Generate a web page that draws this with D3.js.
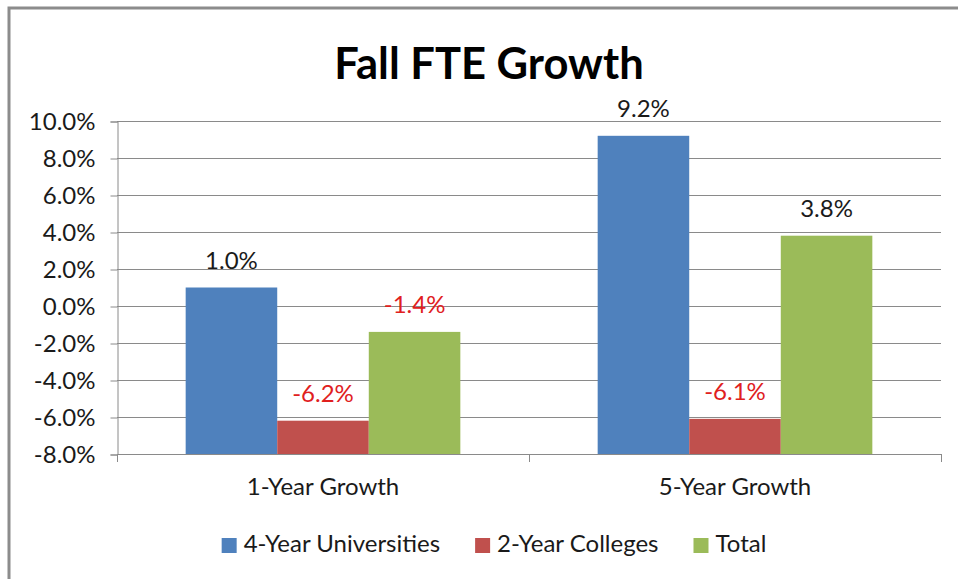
<!DOCTYPE html>
<html>
<head>
<meta charset="utf-8">
<script src="https://cdn.jsdelivr.net/npm/d3@7"></script>
<style>
  body { margin: 0; background: #fff; }
  svg { display: block; font-family: Lato, "Liberation Sans", sans-serif; }
</style>
</head>
<body>
<div id="chart"></div>
<script>
// chart data
var categories = ["1-Year Growth", "5-Year Growth"];
var seriesNames = ["4-Year Universities", "2-Year Colleges", "Total"];
var universities = [0.010, 0.092];
var colleges = [-0.062, -0.061];
var totals = [-0.014, 0.038];
var yTicks = [-0.08, -0.06, -0.04, -0.02, 0, 0.02, 0.04, 0.06, 0.08, 0.10];

var colors = ["#4f81bd", "#c0504d", "#9bbb59"];
var seriesValues = [universities, colleges, totals];

var width = 958, height = 579;
var plot = {left: 117, right: 941, top: 121, bottom: 454};
var fontSize = 24;

// plain hyphen for negatives, like the original
var loc = d3.formatLocale({decimal: ".", thousands: ",", grouping: [3], currency: ["$", ""], minus: "-"});
var pct = loc.format('.1%');

var svg = d3.select('#chart')
  .append('svg')
  .attr('width', width)
  .attr('height', height);

// outer chart border (cropped at right/bottom like the original)
svg.append('rect')
  .attr('x', 9)
  .attr('y', 8)
  .attr('width', 980)
  .attr('height', 600)
  .attr('fill', 'none')
  .attr('stroke', '#8c8c8c')
  .attr('stroke-width', 3);

svg.append('text')
  .attr('x', 489)
  .attr('y', 79)
  .attr('text-anchor', 'middle')
  .attr('font-size', 43.5)
  .attr('font-weight', 'bold')
  .attr('fill', '#000')
  .text('Fall FTE Growth');

var y = d3.scaleLinear()
  .domain([yTicks[0], yTicks[yTicks.length - 1]])
  .range([plot.bottom, plot.top]);

var x0 = d3.scaleBand()
  .domain(categories)
  .range([plot.left, plot.right]);

var x1 = d3.scaleBand()
  .domain(seriesNames)
  .range([0, x0.bandwidth()])
  .paddingInner(0)
  .paddingOuter(0.75);

// gridlines
svg.append('g')
  .selectAll('line')
  .data(yTicks)
  .enter()
  .append('line')
  .attr('x1', plot.left)
  .attr('x2', plot.right)
  .attr('y1', function(d){ return Math.round(y(d)) + 0.5; })
  .attr('y2', function(d){ return Math.round(y(d)) + 0.5; })
  .attr('stroke', '#8a8a8a')
  .attr('stroke-width', 1);

// bars (axis crosses at the minimum, so bars rise from the bottom)
var rows = [];
categories.forEach(function(c, i){
  seriesNames.forEach(function(s, j){
    rows.push({cat: c, series: s, value: seriesValues[j][i], color: colors[j]});
  });
});

svg.append('g')
  .selectAll('rect')
  .data(rows)
  .enter()
  .append('rect')
  .attr('x', function(d){ return x0(d.cat) + x1(d.series); })
  .attr('width', x1.bandwidth())
  .attr('y', function(d){ return y(d.value); })
  .attr('height', function(d){ return y(yTicks[0]) - y(d.value); })
  .attr('fill', function(d){ return d.color; });

// data labels
svg.append('g')
  .selectAll('text')
  .data(rows)
  .enter()
  .append('text')
  .attr('x', function(d){ return x0(d.cat) + x1(d.series) + x1.bandwidth() / 2; })
  .attr('y', function(d){ return y(d.value) - 19; })
  .attr('text-anchor', 'middle')
  .attr('font-size', fontSize)
  .attr('fill', function(d){ return d.value < 0 ? '#e0201e' : '#1a1a1a'; })
  .text(function(d){ return pct(d.value); });

// y axis
var yAxis = svg.append('g')
  .attr('transform', 'translate(' + (plot.left + 0.5) + ',0.5)')
  .call(d3.axisLeft(y).tickValues(yTicks).tickFormat(pct).tickSize(7).tickPadding(15));
yAxis.select('.domain').attr('stroke', '#8a8a8a');
yAxis.selectAll('.tick line').attr('stroke', '#8a8a8a');
yAxis.selectAll('text').attr('font-size', fontSize).attr('fill', '#1a1a1a').attr('font-family', 'Lato, sans-serif');

// x axis line and boundary ticks
var xb = svg.append('g');
xb.append('line')
  .attr('x1', plot.left).attr('x2', plot.right)
  .attr('y1', plot.bottom + 0.5).attr('y2', plot.bottom + 0.5)
  .attr('stroke', '#8a8a8a');
var bounds = categories.map(function(c){ return x0(c); }).concat([plot.right]);
xb.selectAll('line.tk')
  .data(bounds)
  .enter()
  .append('line')
  .attr('class', 'tk')
  .attr('x1', function(d){ return Math.round(d) + 0.5; })
  .attr('x2', function(d){ return Math.round(d) + 0.5; })
  .attr('y1', plot.bottom)
  .attr('y2', plot.bottom + 8)
  .attr('stroke', '#8a8a8a');

// category labels
var xAxis = svg.append('g')
  .attr('transform', 'translate(0,' + plot.bottom + ')')
  .call(d3.axisBottom(x0).tickSize(0).tickPadding(24));
xAxis.select('.domain').remove();
xAxis.selectAll('text').attr('font-size', fontSize).attr('fill', '#1a1a1a').attr('font-family', 'Lato, sans-serif');

// legend
var legend = svg.append('g');
var items = legend.selectAll('g')
  .data(seriesNames)
  .enter()
  .append('g');
items.append('rect')
  .attr('width', 15)
  .attr('height', 15)
  .attr('y', -14)
  .attr('fill', function(d, i){ return colors[i]; });
items.append('text')
  .attr('x', 22)
  .attr('font-size', fontSize)
  .attr('fill', '#1a1a1a')
  .text(function(d){ return d; });

var xpos = 0;
items.each(function(){
  var g = d3.select(this);
  g.attr('transform', 'translate(' + xpos + ',552)');
  xpos += 22 + g.select('text').node().getComputedTextLength() + 35;
});
var total = xpos - 35;
legend.attr('transform', 'translate(' + (494 - total / 2) + ',0)');
</script>
</body>
</html>
